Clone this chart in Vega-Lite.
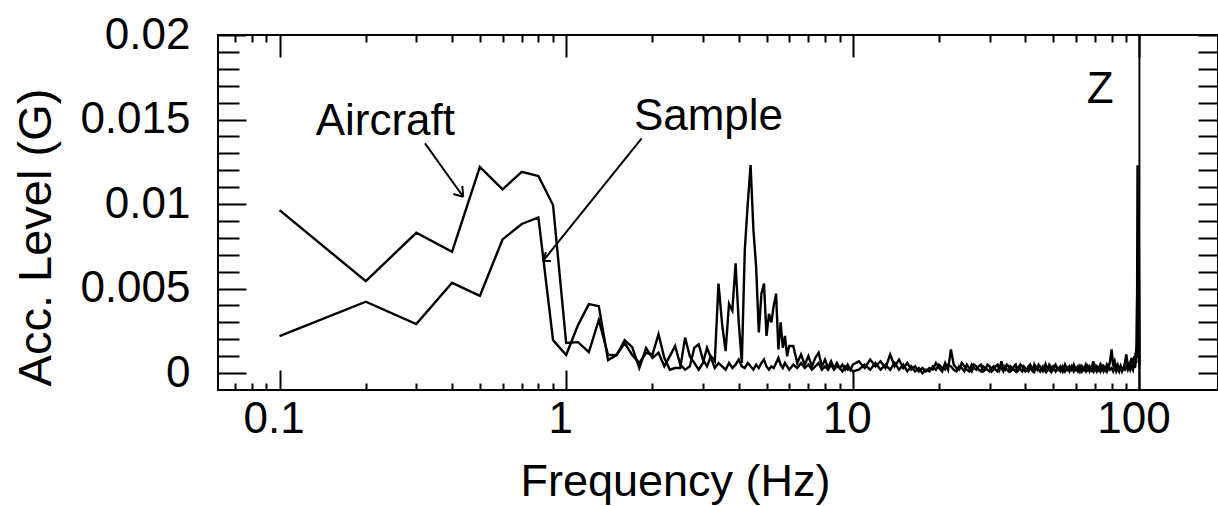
{
  "$schema": "https://vega.github.io/schema/vega-lite/v6.json",
  "autosize": {"type": "none"},
  "padding": {"left": 218, "top": 35, "right": 0, "bottom": 116},
  "width": 1000,
  "height": 355,
  "background": "white",
  "config": {"view": {"stroke": "black", "strokeWidth": 2}, "font": "Liberation Sans"},
  "datasets": {
    "spectrum": [
      {"f": 0.1, "Aircraft": 0.00964, "Sample": 0.00219},
      {"f": 0.2, "Aircraft": 0.00544, "Sample": 0.00422},
      {"f": 0.3, "Aircraft": 0.0083, "Sample": 0.0029},
      {"f": 0.4, "Aircraft": 0.00718, "Sample": 0.00534},
      {"f": 0.5, "Aircraft": 0.0122, "Sample": 0.00457},
      {"f": 0.6, "Aircraft": 0.01087, "Sample": 0.00791},
      {"f": 0.7, "Aircraft": 0.0119, "Sample": 0.00882},
      {"f": 0.8, "Aircraft": 0.01166, "Sample": 0.00921},
      {"f": 0.9, "Aircraft": 0.00994, "Sample": 0.00195},
      {"f": 1.0, "Aircraft": 0.00178, "Sample": 0.00107},
      {"f": 1.1, "Aircraft": 0.00183, "Sample": 0.00284},
      {"f": 1.2, "Aircraft": 0.00124, "Sample": 0.00408},
      {"f": 1.3, "Aircraft": 0.00314, "Sample": 0.00396},
      {"f": 1.4, "Aircraft": 0.00107, "Sample": 0.00077},
      {"f": 1.5, "Aircraft": 0.00107, "Sample": 0.00107},
      {"f": 1.6, "Aircraft": 0.00195, "Sample": 0.00178},
      {"f": 1.7, "Aircraft": 0.00154, "Sample": 0.00107},
      {"f": 1.8, "Aircraft": 0.0003, "Sample": 0.0006},
      {"f": 1.9, "Aircraft": 0.00148, "Sample": 0.0012},
      {"f": 2.0, "Aircraft": 0.0009, "Sample": 0.0011},
      {"f": 2.1, "Aircraft": 0.0012, "Sample": 0.0023},
      {"f": 2.2, "Aircraft": 0.0004, "Sample": 0.0009},
      {"f": 2.3, "Aircraft": 0.001, "Sample": 0.0002},
      {"f": 2.4, "Aircraft": 0.0016, "Sample": 0.0003},
      {"f": 2.5, "Aircraft": 0.0005, "Sample": 0.0003},
      {"f": 2.6, "Aircraft": 0.0002, "Sample": 0.0021},
      {"f": 2.7, "Aircraft": 0.0004, "Sample": 0.001},
      {"f": 2.8, "Aircraft": 0.0015, "Sample": 0.0006},
      {"f": 2.9, "Aircraft": 0.0017, "Sample": 0.0002},
      {"f": 3.0, "Aircraft": 0.0008, "Sample": 0.0006},
      {"f": 3.1, "Aircraft": 0.0004, "Sample": 0.0015},
      {"f": 3.2, "Aircraft": 0.001, "Sample": 0.0009},
      {"f": 3.3, "Aircraft": 0.0007, "Sample": 0.0003},
      {"f": 3.4, "Aircraft": 0.0053, "Sample": 0.0006},
      {"f": 3.5, "Aircraft": 0.0029, "Sample": 0.0004},
      {"f": 3.6, "Aircraft": 0.0013, "Sample": 0.0002},
      {"f": 3.7, "Aircraft": 0.0041, "Sample": 0.0006},
      {"f": 3.8, "Aircraft": 0.0037, "Sample": 0.0003},
      {"f": 3.9, "Aircraft": 0.0065, "Sample": 0.0005},
      {"f": 4.0, "Aircraft": 0.003, "Sample": 0.0008},
      {"f": 4.1, "Aircraft": 0.0006, "Sample": 0.0004},
      {"f": 4.2, "Aircraft": 0.0073, "Sample": 0.0003},
      {"f": 4.3, "Aircraft": 0.01, "Sample": 0.0006},
      {"f": 4.4, "Aircraft": 0.0123, "Sample": 0.0004},
      {"f": 4.5, "Aircraft": 0.0085, "Sample": 0.0002},
      {"f": 4.6, "Aircraft": 0.0063, "Sample": 0.0005},
      {"f": 4.7, "Aircraft": 0.0024, "Sample": 0.0003},
      {"f": 4.8, "Aircraft": 0.0047, "Sample": 0.0006},
      {"f": 4.9, "Aircraft": 0.0053, "Sample": 0.0008},
      {"f": 5.0, "Aircraft": 0.0022, "Sample": 0.0004},
      {"f": 5.1, "Aircraft": 0.0035, "Sample": 0.0002},
      {"f": 5.2, "Aircraft": 0.003, "Sample": 0.0004},
      {"f": 5.3, "Aircraft": 0.004, "Sample": 0.0003},
      {"f": 5.4, "Aircraft": 0.0047, "Sample": 0.0006},
      {"f": 5.5, "Aircraft": 0.0014, "Sample": 0.0009},
      {"f": 5.6, "Aircraft": 0.003, "Sample": 0.0005},
      {"f": 5.7, "Aircraft": 0.0015, "Sample": 0.0003},
      {"f": 5.8, "Aircraft": 0.0022, "Sample": 0.0006},
      {"f": 5.9, "Aircraft": 0.001, "Sample": 0.0004},
      {"f": 6.0, "Aircraft": 0.0016, "Sample": 0.0002},
      {"f": 6.2, "Aircraft": 0.0016, "Sample": 0.0005},
      {"f": 6.4, "Aircraft": 0.0006, "Sample": 0.0003},
      {"f": 6.6, "Aircraft": 0.0011, "Sample": 0.0006},
      {"f": 6.8, "Aircraft": 0.0005, "Sample": 0.0003},
      {"f": 7.0, "Aircraft": 0.001, "Sample": 0.0005},
      {"f": 7.2, "Aircraft": 0.0004, "Sample": 0.0002},
      {"f": 7.4, "Aircraft": 0.0009, "Sample": 0.0004},
      {"f": 7.6, "Aircraft": 0.0012, "Sample": 0.0006},
      {"f": 7.8, "Aircraft": 0.0004, "Sample": 0.0002},
      {"f": 8.0, "Aircraft": 0.0008, "Sample": 0.0004},
      {"f": 8.2, "Aircraft": 0.0003, "Sample": 0.0002},
      {"f": 8.4, "Aircraft": 0.0007, "Sample": 0.0005},
      {"f": 8.6, "Aircraft": 0.0003, "Sample": 0.0002},
      {"f": 8.8, "Aircraft": 0.0006, "Sample": 0.0004},
      {"f": 9.0, "Aircraft": 0.0003, "Sample": 0.0003},
      {"f": 9.2, "Aircraft": 0.0005, "Sample": 0.0001},
      {"f": 9.4, "Aircraft": 0.0002, "Sample": 0.0004},
      {"f": 9.6, "Aircraft": 0.0005, "Sample": 0.0002},
      {"f": 9.8, "Aircraft": 0.0002, "Sample": 0.0003},
      {"f": 10.0, "Aircraft": 0.0005, "Sample": 0.0001},
      {"f": 10.5, "Aircraft": 0.0007, "Sample": 0.0002},
      {"f": 11.0, "Aircraft": 0.0003, "Sample": 0.0005},
      {"f": 11.5, "Aircraft": 0.0008, "Sample": 0.0002},
      {"f": 12.0, "Aircraft": 0.0004, "Sample": 0.0006},
      {"f": 12.5, "Aircraft": 0.0007, "Sample": 0.0002},
      {"f": 13.0, "Aircraft": 0.0003, "Sample": 0.0005},
      {"f": 13.5, "Aircraft": 0.0011, "Sample": 0.0002},
      {"f": 14.0, "Aircraft": 0.0004, "Sample": 0.0006},
      {"f": 14.5, "Aircraft": 0.0008, "Sample": 0.0002},
      {"f": 15.0, "Aircraft": 0.0003, "Sample": 0.0005},
      {"f": 15.5, "Aircraft": 0.0006, "Sample": 0.0001},
      {"f": 16.0, "Aircraft": 0.0002, "Sample": 0.0004},
      {"f": 16.5, "Aircraft": 0.0004, "Sample": 0.0001},
      {"f": 17.0, "Aircraft": 0.0001, "Sample": 0.0003},
      {"f": 17.5, "Aircraft": 0.0003, "Sample": 0.0},
      {"f": 18.0, "Aircraft": 0.0001, "Sample": 0.0002},
      {"f": 18.5, "Aircraft": 0.0003, "Sample": 0.0001},
      {"f": 19.0, "Aircraft": 0.0002, "Sample": 0.0004},
      {"f": 19.5, "Aircraft": 0.0006, "Sample": 0.0002},
      {"f": 20.0, "Aircraft": 0.0003, "Sample": 0.0005},
      {"f": 20.5, "Aircraft": 0.0001, "Sample": 0.0003},
      {"f": 21, "Aircraft": 0.0006, "Sample": 0.0002},
      {"f": 21.5, "Aircraft": 0.0002, "Sample": 0.0005},
      {"f": 22, "Aircraft": 0.0014, "Sample": 0.0004},
      {"f": 22.5, "Aircraft": 0.0005, "Sample": 0.0002},
      {"f": 23, "Aircraft": 0.0003, "Sample": 0.0001},
      {"f": 23.5, "Aircraft": 0.0002, "Sample": 0.0004},
      {"f": 24, "Aircraft": 0.0006, "Sample": 0.0003},
      {"f": 24.5, "Aircraft": 0.0004, "Sample": 0.0001},
      {"f": 25, "Aircraft": 0.0002, "Sample": 0.0005},
      {"f": 25.5, "Aircraft": 0.0001, "Sample": 0.0003},
      {"f": 26, "Aircraft": 0.0005, "Sample": 0.0001},
      {"f": 26.5, "Aircraft": 0.0003, "Sample": 0.0005},
      {"f": 27, "Aircraft": 0.0002, "Sample": 0.0004},
      {"f": 27.5, "Aircraft": 0.0004, "Sample": 0.0002},
      {"f": 28, "Aircraft": 0.0005, "Sample": 0.0001},
      {"f": 28.5, "Aircraft": 0.0001, "Sample": 0.0004},
      {"f": 29, "Aircraft": 0.0002, "Sample": 0.0003},
      {"f": 29.5, "Aircraft": 0.0005, "Sample": 0.0002},
      {"f": 30, "Aircraft": 0.0004, "Sample": 0.0001},
      {"f": 30.5, "Aircraft": 0.0001, "Sample": 0.0003},
      {"f": 31, "Aircraft": 0.0002, "Sample": 0.0004},
      {"f": 31.5, "Aircraft": 0.0004, "Sample": 0.0002},
      {"f": 32, "Aircraft": 0.0005, "Sample": 0.0001},
      {"f": 32.5, "Aircraft": 0.0002, "Sample": 0.0004},
      {"f": 33, "Aircraft": 0.0007, "Sample": 0.0003},
      {"f": 33.5, "Aircraft": 0.0003, "Sample": 0.0001},
      {"f": 34, "Aircraft": 0.0002, "Sample": 0.0004},
      {"f": 34.5, "Aircraft": 0.0005, "Sample": 0.0002},
      {"f": 35, "Aircraft": 0.0004, "Sample": 0.0001},
      {"f": 35.5, "Aircraft": 0.0001, "Sample": 0.0004},
      {"f": 36, "Aircraft": 0.0002, "Sample": 0.0003},
      {"f": 36.5, "Aircraft": 0.0004, "Sample": 0.0002},
      {"f": 37, "Aircraft": 0.0005, "Sample": 0.0001},
      {"f": 37.5, "Aircraft": 0.0001, "Sample": 0.0003},
      {"f": 38, "Aircraft": 0.0002, "Sample": 0.0004},
      {"f": 38.5, "Aircraft": 0.0005, "Sample": 0.0002},
      {"f": 39, "Aircraft": 0.0004, "Sample": 0.0001},
      {"f": 39.5, "Aircraft": 0.0002, "Sample": 0.0004},
      {"f": 40, "Aircraft": 0.0001, "Sample": 0.0003},
      {"f": 40.5, "Aircraft": 0.0002, "Sample": 0.0002},
      {"f": 41, "Aircraft": 0.0004, "Sample": 0.0001},
      {"f": 41.5, "Aircraft": 0.0005, "Sample": 0.0003},
      {"f": 42, "Aircraft": 0.0002, "Sample": 0.0004},
      {"f": 42.5, "Aircraft": 0.0001, "Sample": 0.0002},
      {"f": 43, "Aircraft": 0.0005, "Sample": 0.0001},
      {"f": 43.5, "Aircraft": 0.0003, "Sample": 0.0004},
      {"f": 44, "Aircraft": 0.0002, "Sample": 0.0003},
      {"f": 44.5, "Aircraft": 0.0005, "Sample": 0.0002},
      {"f": 45, "Aircraft": 0.0004, "Sample": 0.0001},
      {"f": 45.5, "Aircraft": 0.0002, "Sample": 0.0003},
      {"f": 46, "Aircraft": 0.0001, "Sample": 0.0004},
      {"f": 46.5, "Aircraft": 0.0003, "Sample": 0.0002},
      {"f": 47, "Aircraft": 0.0005, "Sample": 0.0001},
      {"f": 47.5, "Aircraft": 0.0001, "Sample": 0.0004},
      {"f": 48, "Aircraft": 0.0002, "Sample": 0.0003},
      {"f": 48.5, "Aircraft": 0.0005, "Sample": 0.0002},
      {"f": 49, "Aircraft": 0.0004, "Sample": 0.0001},
      {"f": 49.5, "Aircraft": 0.0001, "Sample": 0.0003},
      {"f": 50, "Aircraft": 0.0002, "Sample": 0.0004},
      {"f": 51, "Aircraft": 0.0005, "Sample": 0.0001},
      {"f": 52, "Aircraft": 0.0002, "Sample": 0.0003},
      {"f": 53, "Aircraft": 0.0004, "Sample": 0.0001},
      {"f": 54, "Aircraft": 0.0001, "Sample": 0.0004},
      {"f": 55, "Aircraft": 0.0005, "Sample": 0.0001},
      {"f": 56, "Aircraft": 0.0002, "Sample": 0.0003},
      {"f": 57, "Aircraft": 0.0004, "Sample": 0.0001},
      {"f": 58, "Aircraft": 0.0002, "Sample": 0.0004},
      {"f": 59, "Aircraft": 0.0005, "Sample": 0.0001},
      {"f": 60, "Aircraft": 0.0002, "Sample": 0.0003},
      {"f": 61, "Aircraft": 0.0004, "Sample": 0.0001},
      {"f": 62, "Aircraft": 0.0001, "Sample": 0.0004},
      {"f": 63, "Aircraft": 0.0004, "Sample": 0.0001},
      {"f": 64, "Aircraft": 0.0002, "Sample": 0.0003},
      {"f": 65, "Aircraft": 0.0005, "Sample": 0.0001},
      {"f": 66, "Aircraft": 0.0002, "Sample": 0.0004},
      {"f": 67, "Aircraft": 0.0004, "Sample": 0.0001},
      {"f": 68, "Aircraft": 0.0002, "Sample": 0.0003},
      {"f": 69, "Aircraft": 0.0007, "Sample": 0.0001},
      {"f": 70, "Aircraft": 0.0002, "Sample": 0.0004},
      {"f": 71, "Aircraft": 0.0004, "Sample": 0.0001},
      {"f": 72, "Aircraft": 0.0002, "Sample": 0.0003},
      {"f": 73, "Aircraft": 0.0005, "Sample": 0.0001},
      {"f": 74, "Aircraft": 0.0002, "Sample": 0.0004},
      {"f": 75, "Aircraft": 0.0004, "Sample": 0.0001},
      {"f": 76, "Aircraft": 0.0002, "Sample": 0.0003},
      {"f": 77, "Aircraft": 0.0005, "Sample": 0.0001},
      {"f": 78, "Aircraft": 0.0003, "Sample": 0.0004},
      {"f": 79, "Aircraft": 0.0007, "Sample": 0.0002},
      {"f": 80, "Aircraft": 0.0014, "Sample": 0.0003},
      {"f": 81, "Aircraft": 0.0004, "Sample": 0.0001},
      {"f": 82, "Aircraft": 0.0007, "Sample": 0.0004},
      {"f": 83, "Aircraft": 0.0003, "Sample": 0.0001},
      {"f": 84, "Aircraft": 0.0005, "Sample": 0.0003},
      {"f": 85, "Aircraft": 0.0002, "Sample": 0.0001},
      {"f": 86, "Aircraft": 0.0004, "Sample": 0.0004},
      {"f": 87, "Aircraft": 0.0002, "Sample": 0.0001},
      {"f": 88, "Aircraft": 0.0003, "Sample": 0.0003},
      {"f": 89, "Aircraft": 0.0006, "Sample": 0.0002},
      {"f": 90, "Aircraft": 0.0011, "Sample": 0.0004},
      {"f": 91, "Aircraft": 0.0005, "Sample": 0.0002},
      {"f": 92, "Aircraft": 0.0003, "Sample": 0.0005},
      {"f": 93, "Aircraft": 0.0006, "Sample": 0.0002},
      {"f": 94, "Aircraft": 0.0009, "Sample": 0.0004},
      {"f": 95, "Aircraft": 0.0005, "Sample": 0.0002},
      {"f": 96, "Aircraft": 0.001, "Sample": 0.0006},
      {"f": 96.5, "Aircraft": 0.0004, "Sample": 0.0003},
      {"f": 97, "Aircraft": 0.0012, "Sample": 0.0008},
      {"f": 97.5, "Aircraft": 0.0006, "Sample": 0.0015},
      {"f": 98, "Aircraft": 0.0035, "Sample": 0.0009},
      {"f": 98.5, "Aircraft": 0.006, "Sample": 0.0123},
      {"f": 99, "Aircraft": 0.003, "Sample": 0.004},
      {"f": 99.5, "Aircraft": 0.0083, "Sample": 0.007},
      {"f": 100, "Aircraft": 0.0005, "Sample": 0.0002}
    ],
    "notes": [
      {"label": "Aircraft", "f": 0.234, "v": 0.01408},
      {"label": "Sample", "f": 3.137, "v": 0.01438},
      {"label": "Z", "f": 72.9, "v": 0.01598}
    ],
    "leaders": [
      {"f": 0.3217, "v": 0.01359, "f2": 0.4375, "v2": 0.01043},
      {"f": 0.4037, "v": 0.01059, "f2": 0.4375, "v2": 0.01043},
      {"f": 0.4341, "v": 0.01108, "f2": 0.4375, "v2": 0.01043},
      {"f": 1.834, "v": 0.01389, "f2": 0.8299, "v2": 0.00663},
      {"f": 0.885, "v": 0.00663, "f2": 0.8299, "v2": 0.00663},
      {"f": 0.85, "v": 0.00716, "f2": 0.8299, "v2": 0.00663}
    ]
  },
  "layer": [
    {
      "data": {"name": "spectrum"},
      "transform": [{"fold": ["Aircraft", "Sample"], "as": ["series", "acc"]}],
      "mark": {"type": "line", "color": "black", "strokeWidth": 2.4, "clip": true},
      "encoding": {
        "x": {
          "field": "f",
          "type": "quantitative",
          "scale": {"type": "log", "domain": [0.061, 188], "nice": false},
          "axis": {
            "orient": "bottom",
            "values": [0.07, 0.08, 0.09, 0.1, 0.2, 0.3, 0.4, 0.5, 0.6, 0.7, 0.8, 0.9, 1, 2, 3, 4, 5, 6, 7, 8, 9, 10, 20, 30, 40, 50, 60, 70, 80, 90, 100],
            "labelExpr": "indexof([0.1,1,10,100], datum.value) >= 0 ? format(datum.value, '~g') : ''",
            "tickSize": {"condition": {"test": "indexof([0.1,1,10,100], datum.value) >= 0", "value": -20}, "value": -7},
            "tickWidth": 2,
            "tickColor": "black",
            "domain": false,
            "grid": false,
            "labelFont": "Liberation Sans",
            "labelFontSize": 44,
            "labelColor": "black",
            "labelBaseline": "alphabetic",
            "labelPadding": 62,
            "labelOffset": -6,
            "labelOverlap": false,
            "labelFlush": false,
            "labelBound": false,
            "title": "Frequency (Hz)",
            "titleFont": "Liberation Sans",
            "titleFontSize": 45,
            "titleFontWeight": "normal",
            "titleColor": "black",
            "titleX": 457,
            "titleY": 105,
            "titleBaseline": "alphabetic",
            "titleAlign": "center"
          }
        },
        "y": {
          "field": "acc",
          "type": "quantitative",
          "scale": {"domain": [-0.001, 0.02], "nice": false, "zero": false},
          "axis": {
            "orient": "left",
            "values": [0, 0.001, 0.002, 0.003, 0.004, 0.005, 0.006, 0.007, 0.008, 0.009, 0.01, 0.011, 0.012, 0.013, 0.014, 0.015, 0.016, 0.017, 0.018, 0.019, 0.02],
            "labelExpr": "indexof([0,0.005,0.01,0.015,0.02], datum.value) >= 0 ? format(datum.value, '~g') : ''",
            "tickSize": {"condition": {"test": "indexof([0,0.005,0.01,0.015,0.02], datum.value) >= 0", "value": -28}, "value": -21},
            "tickWidth": 2,
            "tickColor": "black",
            "domain": false,
            "grid": false,
            "labelFont": "Liberation Sans",
            "labelFontSize": 44,
            "labelColor": "black",
            "labelBaseline": "middle",
            "labelPadding": 56,
            "labelOverlap": false,
            "labelFlush": false,
            "labelBound": false,
            "title": "Acc. Level (G)",
            "titleFont": "Liberation Sans",
            "titleFontSize": 47,
            "titleFontWeight": "normal",
            "titleColor": "black",
            "titleAngle": 270,
            "titleX": -168,
            "titleY": 202,
            "titleBaseline": "alphabetic",
            "titleAlign": "center"
          }
        },
        "detail": {"field": "series"}
      }
    },
    {
      "data": {"name": "notes"},
      "mark": {"type": "text", "fontSize": 44, "font": "Liberation Sans", "color": "black", "align": "center", "baseline": "alphabetic"},
      "encoding": {
        "x": {
          "field": "f",
          "type": "quantitative",
          "axis": {
            "orient": "top",
            "values": [0.07, 0.08, 0.09, 0.1, 0.2, 0.3, 0.4, 0.5, 0.6, 0.7, 0.8, 0.9, 1, 2, 3, 4, 5, 6, 7, 8, 9, 10, 20, 30, 40, 50, 60, 70, 80, 90, 100],
            "labels": false,
            "tickSize": {"condition": {"test": "indexof([0.1,1,10,100], datum.value) >= 0", "value": -22}, "value": -7},
            "tickWidth": 2,
            "tickColor": "black",
            "domain": false,
            "grid": false,
            "title": null
          }
        },
        "y": {
          "field": "v",
          "type": "quantitative",
          "axis": {
            "orient": "right",
            "values": [0, 0.001, 0.002, 0.003, 0.004, 0.005, 0.006, 0.007, 0.008, 0.009, 0.01, 0.011, 0.012, 0.013, 0.014, 0.015, 0.016, 0.017, 0.018, 0.019, 0.02],
            "labels": false,
            "tickSize": -20,
            "tickWidth": 2,
            "tickColor": "black",
            "domain": false,
            "grid": false,
            "title": null
          }
        },
        "text": {"field": "label"}
      }
    },
    {
      "data": {"name": "leaders"},
      "mark": {"type": "rule", "color": "black", "strokeWidth": 2},
      "encoding": {
        "x": {"field": "f", "type": "quantitative", "axis": null},
        "x2": {"field": "f2"},
        "y": {"field": "v", "type": "quantitative", "axis": null},
        "y2": {"field": "v2"}
      }
    },
    {
      "data": {"values": [{}]},
      "mark": {"type": "rule", "color": "black", "strokeWidth": 2},
      "encoding": {
        "x": {"datum": 100, "type": "quantitative", "axis": null}
      }
    }
  ],
  "resolve": {"axis": {"x": "independent", "y": "independent"}}
}
